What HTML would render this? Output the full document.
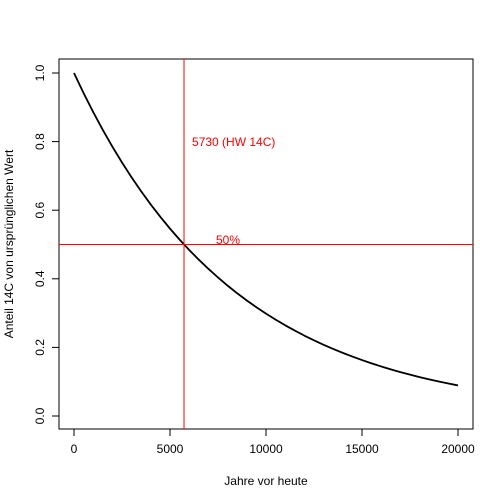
<!DOCTYPE html>
<html><head><meta charset="utf-8"><style>body{margin:0;background:#fff}svg{display:block;font-family:"Liberation Sans",Arial,sans-serif}</style></head>
<body>
<svg id="c" width="504" height="504"></svg>
<script>
const years=[0,500,1000,1500,2000,2500,3000,3500,4000,4500,5000,5500,6000,6500,7000,7500,8000,8500,9000,9500,10000,10500,11000,11500,12000,12500,13000,13500,14000,14500,15000,15500,16000,16500,17000,17500,18000,18500,19000,19500,20000];
const fraction=[1,0.9413,0.8861,0.8341,0.7852,0.7391,0.6958,0.6549,0.6165,0.5803,0.5463,0.5142,0.4841,0.4557,0.4290,0.4038,0.3801,0.3578,0.3368,0.3170,0.2985,0.2810,0.2645,0.2490,0.2343,0.2206,0.2077,0.1955,0.1840,0.1732,0.1631,0.1535,0.1445,0.1360,0.1280,0.1205,0.1135,0.1068,0.1005,0.0946,0.0891];
const xTicks=[0,5000,10000,15000,20000];
const yTicks=[0,0.2,0.4,0.6,0.8,1.0];
const yTickLabels=["0.0","0.2","0.4","0.6","0.8","1.0"];
const halfLife=5730, halfValue=0.5;
const L=59,R=473,T=59,B=429;
const X=v=>74+v*(458-74)/20000;
const Y=v=>416-v*(416-73);
const svg=document.getElementById('c');const NS='http://www.w3.org/2000/svg';
function el(t,a,p){const e=document.createElementNS(NS,t);for(const k in a)e.setAttribute(k,a[k]);(p||svg).appendChild(e);return e;}
let e;
e=el('rect',{x:L,y:T,width:R-L,height:B-T,fill:'none',stroke:'#000'});


xTicks.forEach(v=>{
 e=el('line',{x1:X(v),x2:X(v),y1:B,y2:B+7,stroke:'#000'});
 
 
 e=el('text',{x:X(v),y:B+24,'text-anchor':'middle','font-size':12});e.textContent=v;
 
 
});
e=el('line',{x1:X(0),x2:X(20000),y1:B,y2:B,stroke:'#000'});


yTicks.forEach((v,i)=>{
 e=el('line',{x1:L-7,x2:L,y1:Y(v),y2:Y(v),stroke:'#000'});
 
 
 e=el('text',{x:0,y:0,transform:`translate(${L-15},${Y(v)}) rotate(-90)`,'text-anchor':'middle','font-size':12});e.textContent=yTickLabels[i];
 
 
});
e=el('line',{x1:L,x2:L,y1:Y(0),y2:Y(1),stroke:'#000'});


e=el('text',{x:266,y:485,'text-anchor':'middle','font-size':12});e.textContent='Jahre vor heute';


e=el('text',{x:0,y:0,transform:'translate(13,244) rotate(-90)','text-anchor':'middle','font-size':12});e.textContent='Anteil 14C von ursprünglichen Wert';


e=el('polyline',{points:years.map((t,i)=>X(t)+','+Y(fraction[i])).join(' '),fill:'none',stroke:'#000','stroke-width':1.8,'stroke-linejoin':'round'});


e=el('line',{x1:X(halfLife),x2:X(halfLife),y1:T,y2:B,stroke:'#f00'});


e=el('line',{x1:L,x2:R,y1:Y(halfValue),y2:Y(halfValue),stroke:'#f00'});


e=el('text',{x:X(halfLife)+8,y:146,fill:'#f00','font-size':12});e.textContent='5730 (HW 14C)';


e=el('text',{x:216,y:244,fill:'#f00','font-size':12});e.textContent='50%';


</script>
</body></html>
